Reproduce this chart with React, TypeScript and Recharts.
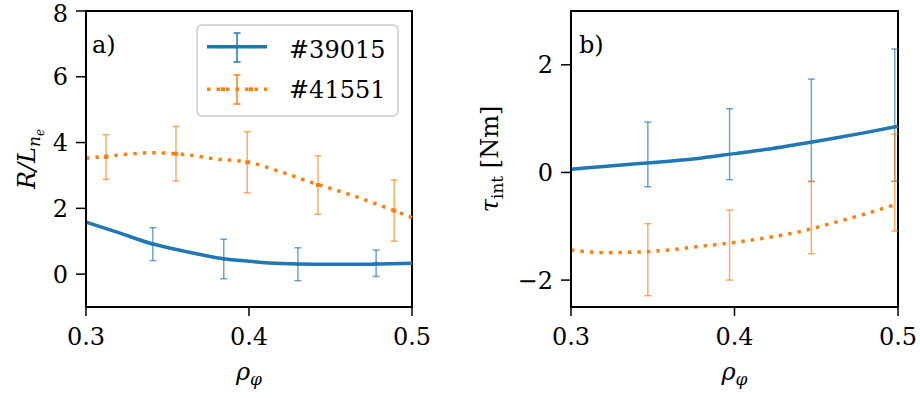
import {
  ComposedChart, Line, Scatter, ErrorBar, XAxis, YAxis, ReferenceArea, Label,
} from 'recharts';

const BLUE = '#1f77b4';
const ORANGE = '#ff7f0e';
const FONT = "'DejaVu Serif', serif";

// a) R/L_ne — fitted profiles
const curveXA = [0.30, 0.32, 0.34, 0.36, 0.38, 0.40, 0.42, 0.44, 0.46, 0.48, 0.50];
const blueCurveA = [1.58, 1.26, 0.93, 0.70, 0.50, 0.39, 0.32, 0.30, 0.30, 0.31, 0.33];
const orangeCurveA = [3.52, 3.62, 3.69, 3.64, 3.50, 3.40, 3.10, 2.76, 2.45, 2.10, 1.72];
// a) measurements with error bars
const blueRhoA = [0.341, 0.3845, 0.430, 0.478];
const blueValA = [0.91, 0.46, 0.30, 0.33];
const blueErrA = [0.50, 0.60, 0.50, 0.40];
const orangeRhoA = [0.3123, 0.3552, 0.3989, 0.4423, 0.4891];
const orangeValA = [3.56, 3.66, 3.40, 2.71, 1.93];
const orangeErrA = [0.68, 0.83, 0.93, 0.89, 0.93];

// b) tau_int — fitted profiles
const curveXB = [0.30, 0.32, 0.34, 0.36, 0.38, 0.40, 0.42, 0.44, 0.46, 0.48, 0.50];
const blueCurveB = [0.06, 0.11, 0.16, 0.21, 0.27, 0.35, 0.43, 0.53, 0.63, 0.74, 0.86];
const orangeCurveB = [-1.44, -1.49, -1.48, -1.44, -1.37, -1.30, -1.21, -1.10, -0.94, -0.77, -0.58];
// b) measurements with error bars
const rhoB = [0.347, 0.397, 0.447, 0.498];
const blueValB = [0.335, 0.525, 0.785, 1.065];
const blueErrB = [0.60, 0.66, 0.95, 1.23];
const orangeValB = [-1.62, -1.35, -0.84, -0.19];
const orangeErrB = [0.67, 0.65, 0.67, 0.90];

const ticksX = [0.3, 0.4, 0.5];
const ticksYA = [0, 2, 4, 6, 8];
const ticksYB = [-2, 0, 2];

const rows = (xs: number[], ys: number[], es?: number[]) =>
  xs.map((x, i) => ({ x, y: ys[i], e: es ? es[i] : 0 }));

const fmtY = (v: number) => (v < 0 ? '\u2212' + Math.abs(v) : String(v));

const tickStyle = { fontSize: 24, fill: '#000', fontFamily: FONT };
const DOTS = '3.5 6';

function RhoLabel(props: any) {
  const vb = props.viewBox || {};
  const cx = vb.x + vb.width / 2;
  const y = vb.y + 73;
  return (
    <text x={cx} y={y} textAnchor="middle" fontFamily={FONT} fontSize={24} fontStyle="italic" fill="#000">
      <tspan>ρ</tspan>
      <tspan dy={5} fontSize={17}>φ</tspan>
    </text>
  );
}

function RLnLabel(props: any) {
  const vb = props.viewBox || {};
  const cx = vb.x + 27;
  const cy = vb.y + vb.height / 2;
  return (
    <text x={cx} y={cy + 8} transform={`rotate(-90 ${cx} ${cy})`} textAnchor="middle"
      fontFamily={FONT} fontSize={24} fontStyle="italic" fill="#000">
      <tspan>R/L</tspan>
      <tspan dy={5} fontSize={17}>n</tspan>
      <tspan dy={4} fontSize={12}>e</tspan>
    </text>
  );
}

function TauLabel(props: any) {
  const vb = props.viewBox || {};
  const cx = vb.x + 30;
  const cy = vb.y + vb.height / 2;
  return (
    <text x={cx} y={cy + 8} transform={`rotate(-90 ${cx} ${cy})`} textAnchor="middle"
      fontFamily={FONT} fontSize={24} fill="#000">
      <tspan fontStyle="italic">τ</tspan>
      <tspan dy={5} fontSize={17}>int</tspan>
      <tspan dy={-5}> [Nm]</tspan>
    </text>
  );
}

const dotShape = (size: number, color: string) => (p: any) =>
  size > 0 ? (
    <rect x={p.cx - size / 2} y={p.cy - size / 2} width={size} height={size} fill={color} />
  ) : (
    <g />
  );

interface PanelProps {
  yDomain: [number, number];
  yTicks: number[];
  yWidth: number;
  right: number;
  yLabel: (p: any) => JSX.Element;
  blueCurve: { x: number; y: number }[];
  orangeCurve: { x: number; y: number }[];
  bluePts: { x: number; y: number; e: number }[];
  orangePts: { x: number; y: number; e: number }[];
  markers: boolean;
}

function Panel(p: PanelProps) {
  return (
    <ComposedChart width={460} height={398} margin={{ top: 11, right: p.right, bottom: 0, left: 0 }}>
      <XAxis
        dataKey="x" type="number" domain={[0.3, 0.5]} ticks={ticksX} height={91}
        tickSize={9} tickMargin={12} tick={tickStyle} tickFormatter={(v: number) => v.toFixed(1)}
        axisLine={{ stroke: '#000', strokeWidth: 2 }} tickLine={{ stroke: '#000', strokeWidth: 1.5 }}
      >
        <Label content={RhoLabel} />
      </XAxis>
      <YAxis
        type="number" domain={p.yDomain} ticks={p.yTicks} width={p.yWidth}
        tickSize={10} tickMargin={8} tick={tickStyle} tickFormatter={fmtY}
        axisLine={{ stroke: '#000', strokeWidth: 2 }} tickLine={{ stroke: '#000', strokeWidth: 1.5 }}
      >
        <Label content={p.yLabel} />
      </YAxis>
      <ReferenceArea x1={0.3} x2={0.5} y1={p.yDomain[0]} y2={p.yDomain[1]}
        fill="none" stroke="#000" strokeWidth={2} />
      <Line data={p.blueCurve} dataKey="y" type="monotone" stroke={BLUE} strokeWidth={3.5}
        dot={false} isAnimationActive={false} />
      <Line data={p.orangeCurve} dataKey="y" type="monotone" stroke={ORANGE} strokeWidth={3.5}
        strokeDasharray={DOTS} dot={false} isAnimationActive={false} />
      <Scatter data={p.bluePts} dataKey="y" shape={dotShape(p.markers ? 3 : 0, BLUE)} isAnimationActive={false}>
        <ErrorBar dataKey="e" direction="y" width={3.5} stroke={BLUE} strokeWidth={1.5} strokeOpacity={0.65} />
      </Scatter>
      <Scatter data={p.orangePts} dataKey="y" shape={dotShape(p.markers ? 4 : 0, ORANGE)} isAnimationActive={false}>
        <ErrorBar dataKey="e" direction="y" width={3.5} stroke={ORANGE} strokeWidth={1.5} strokeOpacity={0.65} />
      </Scatter>
    </ComposedChart>
  );
}

function Overlay() {
  return (
    <svg width={920} height={398} style={{ position: 'absolute', left: 0, top: 0, pointerEvents: 'none' }}>
      <text x={92} y={53} fontFamily={FONT} fontSize={24} fill="#000">a)</text>
      <text x={579} y={53} fontFamily={FONT} fontSize={24} fill="#000">b)</text>
      <g transform="translate(197 25)">
        <rect x={0} y={0} width={201} height={91} rx={5} fill="#fff" fillOpacity={0.8}
          stroke="#cccccc" strokeWidth={1.5} />
        <line x1={10} x2={70} y1={21.7} y2={21.7} stroke={BLUE} strokeWidth={3.5} />
        <line x1={40} x2={40} y1={8} y2={37} stroke={BLUE} strokeWidth={1.5} />
        <line x1={36.5} x2={43.5} y1={8} y2={8} stroke={BLUE} strokeWidth={1.5} />
        <line x1={36.5} x2={43.5} y1={37} y2={37} stroke={BLUE} strokeWidth={1.5} />
        <rect x={24.5} y={20.2} width={3} height={3} fill={BLUE} />
        <rect x={52.5} y={20.2} width={3} height={3} fill={BLUE} />
        <line x1={10} x2={70} y1={64.3} y2={64.3} stroke={ORANGE} strokeWidth={3.5} strokeDasharray={DOTS} />
        <line x1={40} x2={40} y1={50} y2={79} stroke={ORANGE} strokeWidth={1.5} />
        <line x1={36.5} x2={43.5} y1={50} y2={50} stroke={ORANGE} strokeWidth={1.5} />
        <line x1={36.5} x2={43.5} y1={79} y2={79} stroke={ORANGE} strokeWidth={1.5} />
        <rect x={24} y={62.3} width={4} height={4} fill={ORANGE} />
        <rect x={52} y={62.3} width={4} height={4} fill={ORANGE} />
        <text x={92} y={33} fontFamily={FONT} fontSize={24} fill="#000">#39015</text>
        <text x={92} y={73} fontFamily={FONT} fontSize={24} fill="#000">#41551</text>
      </g>
    </svg>
  );
}

export default function App() {
  return (
    <div style={{ position: 'absolute', left: 0, top: 0, width: 920, height: 398, background: '#fff', fontFamily: FONT }}>
      <div style={{ position: 'absolute', left: 0, top: 0 }}>
        <Panel
          yDomain={[-1, 8]} yTicks={ticksYA} yWidth={86} right={48} yLabel={RLnLabel}
          blueCurve={rows(curveXA, blueCurveA)} orangeCurve={rows(curveXA, orangeCurveA)}
          bluePts={rows(blueRhoA, blueValA, blueErrA)} orangePts={rows(orangeRhoA, orangeValA, orangeErrA)}
          markers
        />
      </div>
      <div style={{ position: 'absolute', left: 460, top: 0 }}>
        <Panel
          yDomain={[-2.5, 3]} yTicks={ticksYB} yWidth={111} right={22} yLabel={TauLabel}
          blueCurve={rows(curveXB, blueCurveB)} orangeCurve={rows(curveXB, orangeCurveB)}
          bluePts={rows(rhoB, blueValB, blueErrB)} orangePts={rows(rhoB, orangeValB, orangeErrB)}
          markers={false}
        />
      </div>
      <Overlay />
    </div>
  );
}
